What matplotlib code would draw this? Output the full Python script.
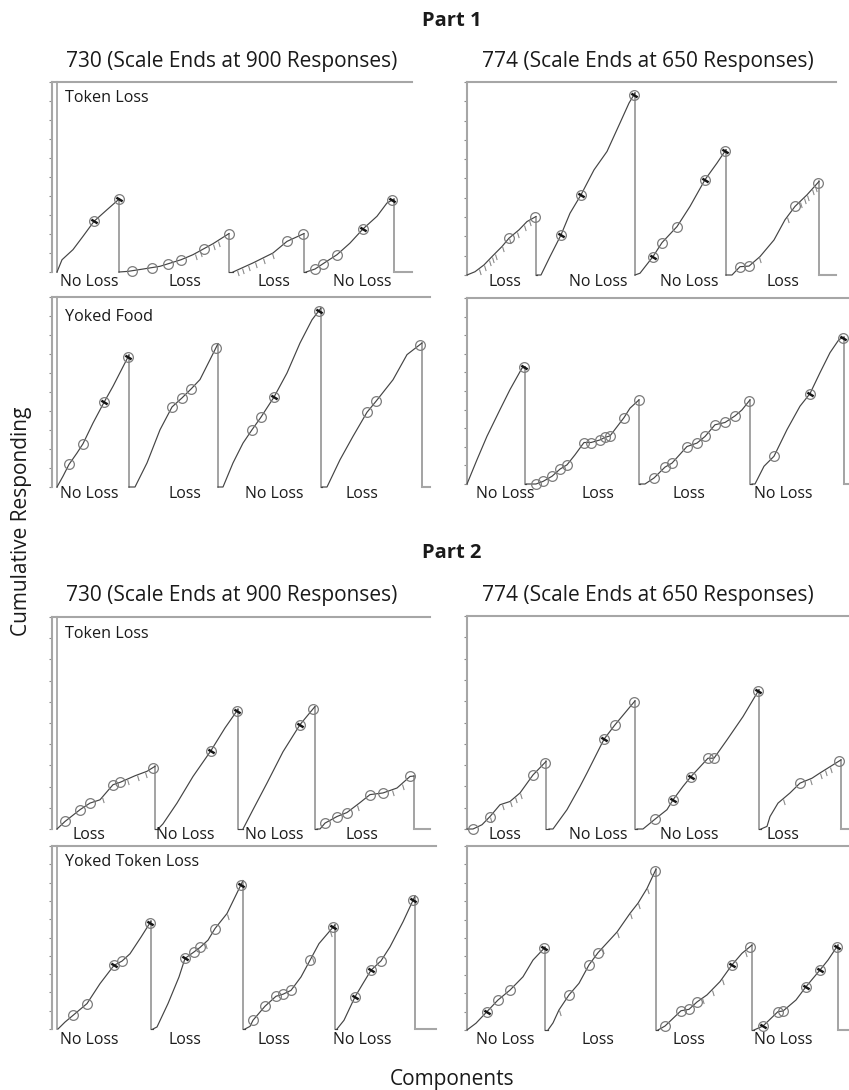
import numpy as np
import matplotlib
matplotlib.use("Agg")
import matplotlib.pyplot as plt
import matplotlib.transforms as mtransforms
from matplotlib.path import Path

plt.rcParams['font.family'] = ['Open Sans', 'DejaVu Sans']

# --- cumulative records: time (arbitrary units) and cumulative responses per component ---
# Part 1, 730, Token Loss (scale 900)
p1_730_tl_t = [[0, 5, 16, 26, 37, 50, 62],
               [62, 71, 86, 103, 124, 136, 156, 172],
               [176, 196, 216, 230, 247],
               [249, 258, 266, 280, 293, 306, 320, 330, 337]]
p1_730_tl_r = [[0, 58, 106, 169, 240, 295, 345],
               [0, 3, 14, 27, 58, 82, 134, 182],
               [0, 43, 90, 145, 182],
               [0, 14, 39, 82, 137, 204, 264, 327, 345]]
p1_730_tl_rein = [37, 62, 75, 95, 111, 124, 147, 172, 230, 246, 258, 266, 280, 306, 335]
p1_730_tl_dark = [37, 62, 306, 335]
p1_730_tl_loss = [138, 143, 156, 161, 180, 185, 191, 198, 206, 215]
p1_730_tl_cond = ["No Loss", "Loss", "Loss", "No Loss"]

# Part 1, 730, Yoked Food
p1_730_yf_t = [[0, 6, 12, 20, 26, 36, 47, 56, 72],
               [72, 78, 90, 103, 115, 125, 134, 143, 153, 161],
               [161, 166, 176, 186, 195, 204, 217, 230, 243, 255, 264],
               [265, 270, 283, 296, 310, 319, 336, 350, 365]]
p1_730_yf_r = [[0, 51, 107, 161, 205, 303, 401, 477, 625],
               [0, 0, 114, 271, 379, 422, 464, 509, 603, 679],
               [0, 0, 114, 208, 271, 331, 426, 540, 682, 792, 848],
               [0, 0, 129, 240, 354, 406, 508, 627, 682]]
p1_730_yf_rein = [12, 26, 47, 71, 115, 125, 134, 159, 195, 204, 217, 262, 310, 319, 363]
p1_730_yf_dark = [47, 71, 217, 262]
p1_730_yf_loss = []
p1_730_yf_cond = ["No Loss", "Loss", "No Loss", "Loss"]

# Part 1, 774, Token Loss (scale 650)
p1_774_tl_t = [[0, 8, 17, 25, 35, 42, 52, 60, 69],
               [70, 74, 83, 94, 103, 114, 127, 140, 153, 162, 168],
               [168, 173, 186, 195, 210, 223, 238, 250, 259],
               [259, 265, 273, 282, 293, 307, 318, 328, 340, 352]]
p1_774_tl_r = [[0, 11, 34, 62, 96, 124, 152, 180, 197],
               [0, 0, 62, 135, 208, 270, 354, 416, 512, 579, 613],
               [0, 6, 62, 109, 163, 231, 321, 377, 422],
               [0, 0, 28, 30, 62, 118, 186, 231, 270, 315]]
p1_774_tl_rein = [42, 68, 94, 114, 167, 186, 195, 210, 238, 258, 273, 282, 328, 351]
p1_774_tl_dark = [94, 114, 167, 186, 238, 258]
p1_774_tl_loss = [12, 17, 22, 25, 28, 35, 42, 50, 57, 62, 292, 320, 333, 337, 340, 345, 348]
p1_774_tl_cond = ["Loss", "No Loss", "No Loss", "Loss"]

# Part 1, 774, Yoked Food
p1_774_yf_t = [[0, 10, 20, 33, 43, 55, 58],
               [59, 63, 69, 76, 85, 93, 100, 108, 117, 124, 133, 138, 143, 150, 157, 163, 172],
               [173, 178, 187, 198, 205, 220, 230, 238, 248, 258, 268, 275, 283],
               [285, 288, 297, 307, 320, 333, 343, 353, 363, 372, 377]]
p1_774_yf_r = [[0, 85, 167, 260, 330, 405, 409],
               [0, 0, 0, 9, 27, 52, 67, 102, 145, 145, 154, 163, 168, 200, 232, 265, 294],
               [0, 0, 21, 59, 73, 131, 143, 166, 207, 215, 238, 259, 294],
               [0, 0, 62, 97, 190, 272, 316, 389, 459, 505, 513]]
p1_774_yf_rein = [57, 69, 76, 85, 93, 100, 117, 124, 133, 138, 143, 157, 172,
                  187, 198, 205, 220, 230, 238, 248, 258, 268, 282, 307, 343, 376]
p1_774_yf_dark = [57, 343, 376]
p1_774_yf_loss = []
p1_774_yf_cond = ["No Loss", "Loss", "Loss", "No Loss"]

# Part 2, 730, Token Loss
p2_730_tl_t = [[0, 8, 23, 33, 43, 56, 63, 78, 90, 98],
               [101, 106, 120, 136, 154, 168, 181],
               [186, 196, 210, 226, 243, 258],
               [260, 263, 268, 280, 290, 303, 313, 326, 340, 353, 357]]
p2_730_tl_r = [[0, 32, 82, 110, 124, 188, 198, 226, 245, 266],
               [0, 22, 110, 223, 333, 429, 508],
               [0, 82, 195, 328, 443, 520],
               [0, 0, 25, 53, 70, 112, 146, 153, 174, 223, 225]]
p2_730_tl_rein = [8, 23, 33, 56, 63, 96, 154, 180, 243, 256, 268, 280, 290, 313, 326, 353]
p2_730_tl_dark = [154, 180, 243]
p2_730_tl_loss = [45, 70, 80, 88, 300, 335, 345]
p2_730_tl_cond = ["Loss", "No Loss", "No Loss", "Loss"]

# Part 2, 730, Yoked Token Loss
p2_730_ytl_t = [[1, 8, 16, 30, 43, 57, 65, 73, 84, 94],
                [96, 100, 111, 122, 128, 137, 143, 151, 158, 170, 186],
                [188, 193, 196, 208, 219, 226, 234, 244, 253, 262, 278],
                [280, 287, 298, 306, 314, 324, 333, 346, 358]]
p2_730_ytl_r = [[0, 34, 67, 125, 223, 313, 334, 370, 452, 530],
                [0, 10, 125, 256, 347, 379, 401, 437, 494, 568, 730],
                [0, 13, 43, 112, 161, 171, 190, 256, 338, 420, 512],
                [0, 43, 158, 224, 289, 335, 404, 527, 654]]
p2_730_ytl_rein = [16, 30, 57, 65, 93, 128, 137, 143, 158, 184, 196, 208, 219, 226, 234, 253, 276,
                   298, 314, 324, 356]
p2_730_ytl_dark = [57, 93, 128, 184, 276, 298, 314, 356]
p2_730_ytl_loss = [148, 170, 255, 273]
p2_730_ytl_cond = ["No Loss", "Loss", "Loss", "No Loss"]

# Part 2, 774, Token Loss
p2_774_tl_t = [[0, 6, 15, 23, 33, 43, 53, 66, 79],
               [82, 86, 100, 113, 120, 137, 148, 168],
               [170, 176, 188, 200, 206, 216, 224, 241, 247, 260, 276, 292],
               [294, 300, 303, 311, 323, 333, 345, 353, 374]]
p2_774_tl_r = [[0, 0, 13, 38, 74, 84, 110, 165, 206],
               [0, 0, 59, 130, 171, 274, 318, 391],
               [0, 0, 30, 59, 89, 130, 160, 216, 216, 272, 343, 425],
               [0, 8, 38, 79, 110, 140, 155, 171, 211]]
p2_774_tl_rein = [6, 23, 66, 78, 137, 148, 167, 188, 206, 224, 241, 247, 291, 333, 372]
p2_774_tl_dark = [137, 206, 224, 291]
p2_774_tl_loss = [23, 35, 43, 48, 53, 316, 343, 353, 358, 363]
p2_774_tl_cond = ["Loss", "No Loss", "No Loss", "Loss"]

# Part 2, 774, Yoked Token Loss
p2_774_ytl_t = [[0, 9, 20, 31, 43, 56, 66, 78],
                [81, 86, 92, 102, 112, 122, 131, 150, 163, 171, 180, 189],
                [191, 198, 214, 222, 230, 240, 253, 265, 275, 285],
                [287, 296, 311, 316, 329, 339, 353, 361, 371]]
p2_774_ytl_r = [[0, 24, 65, 106, 141, 188, 247, 292],
                [0, 25, 71, 124, 165, 230, 273, 346, 412, 448, 500, 568],
                [0, 14, 68, 73, 99, 124, 171, 230, 271, 300],
                [0, 14, 65, 67, 106, 153, 212, 247, 300]]
p2_774_ytl_rein = [20, 31, 43, 77, 102, 122, 131, 188, 198, 214, 222, 230, 265, 283,
                   296, 311, 316, 339, 353, 370]
p2_774_ytl_dark = [20, 77, 265, 296, 339, 353, 370]
p2_774_ytl_loss = [92, 135, 150, 163, 171, 180, 235, 245, 255, 278]
p2_774_ytl_cond = ["No Loss", "Loss", "Loss", "No Loss"]

scale_730 = 900
scale_774 = 650

# --- figure (layout in pixels) ---
FW, FH = 849, 1090
fig = plt.figure(figsize=(FW / 100, FH / 100), dpi=100)

CURVE = '#444444'
FRAME = '#a6a6a6'
TXT = '#1a1a1a'

hash_marker = Path([(0, 0), (0.3, -1)], [Path.MOVETO, Path.LINETO])
dash_marker = Path([(-1, 0.6), (1, -0.6)], [Path.MOVETO, Path.LINETO])


def draw_panel(box, end, ymax, comp_t, comp_r, rein, dark, loss, cond, label_x, label_y,
               name=None, name_dy=-11.5, double=False):
    left, top, right, base = box
    ax = fig.add_axes([left / FW, 1 - base / FH, (right - left) / FW, (base - top) / FH])
    ax.set_xlim(0, end)
    ax.set_ylim(0, ymax)
    for s in ['right', 'bottom']:
        ax.spines[s].set_visible(False)
    for s in ['top', 'left']:
        ax.spines[s].set_color(FRAME)
        ax.spines[s].set_linewidth(1.5)
    ax.set_xticks([])
    ax.set_yticks(np.linspace(0, ymax, 11))
    ax.tick_params(axis='y', direction='out', length=2.5, width=0.8, color='#8c8c8c',
                   labelleft=False)
    ax.patch.set_alpha(0)
    if double:
        ax.spines['left'].set_position(('outward', 3.5))
        ax.plot([0, 0], [0, ymax], color=FRAME, lw=1.3, clip_on=False)
        ax.plot([-5, 0], [ymax, ymax], color=FRAME, lw=1.5, clip_on=False)

    n = len(comp_t)
    for i in range(n):
        t, r = comp_t[i], comp_r[i]
        ax.plot(t, r, color=CURVE, lw=0.85, clip_on=False, zorder=3)
        ax.plot([t[-1], t[-1]], [r[-1], 0], color='#8a8a8a', lw=1.1, clip_on=False, zorder=2)
        if i + 1 < n:
            ax.plot([t[-1], comp_t[i + 1][0]], [0, 0], color=CURVE, lw=0.85, clip_on=False)
        else:
            ax.plot([t[-1], end], [0, 0], color=FRAME, lw=1.5, clip_on=False)

    def on_curve(x):
        for t, r in zip(comp_t, comp_r):
            if t[0] <= x <= t[-1]:
                return np.interp(x, t, r)
        return 0.0

    rx = np.array(rein, dtype=float)
    ry = np.array([on_curve(x) for x in rx])
    ax.plot(rx, ry, 'o', ms=7, mfc='none', mec='#7c7c7c', mew=0.9, clip_on=False, zorder=4)
    if dark:
        dx = np.array(dark, dtype=float)
        dy = np.array([on_curve(x) for x in dx])
        ax.plot(dx, dy, ls='none', marker=dash_marker, ms=4.5, mec='#151515', mew=1.8,
                clip_on=False, zorder=5)
    if loss:
        lx = np.array(loss, dtype=float)
        ly = np.array([on_curve(x) for x in lx])
        ax.plot(lx, ly, ls='none', marker=hash_marker, ms=8, mfc='none', mec='#8a8a8a',
                mew=0.8, clip_on=False, zorder=3)

    tr = mtransforms.blended_transform_factory(ax.transData, fig.transFigure)
    for c, x in zip(cond, label_x):
        ax.text(x, 1 - label_y / FH, c, transform=tr, ha='center', va='center',
                fontsize=11.4, color=TXT)
    if name:
        ax.annotate(name, xy=(0, 1), xycoords='axes fraction', xytext=(6, name_dy),
                    textcoords='offset points', ha='left', va='center', fontsize=11.6, color=TXT)
    return ax


LEFT_LX = [32, 128, 217, 305]
RIGHT_LX = [38, 131, 222, 316]

draw_panel((57, 82, 412, 272), 355, scale_730, p1_730_tl_t, p1_730_tl_r, p1_730_tl_rein,
           p1_730_tl_dark, p1_730_tl_loss, p1_730_tl_cond, LEFT_LX, 282,
           name='Token Loss', double=True)
draw_panel((57, 297, 430, 487), 373, scale_730, p1_730_yf_t, p1_730_yf_r, p1_730_yf_rein,
           p1_730_yf_dark, p1_730_yf_loss, p1_730_yf_cond, LEFT_LX, 494,
           name='Yoked Food', name_dy=-14.5, double=True)
draw_panel((467, 82, 836, 275), 369, scale_774, p1_774_tl_t, p1_774_tl_r, p1_774_tl_rein,
           p1_774_tl_dark, p1_774_tl_loss, p1_774_tl_cond, RIGHT_LX, 282)
draw_panel((467, 298, 849, 484), 382, scale_774, p1_774_yf_t, p1_774_yf_r, p1_774_yf_rein,
           p1_774_yf_dark, p1_774_yf_loss, p1_774_yf_cond, RIGHT_LX, 494)
draw_panel((57, 617, 430, 829), 373, scale_730, p2_730_tl_t, p2_730_tl_r, p2_730_tl_rein,
           p2_730_tl_dark, p2_730_tl_loss, p2_730_tl_cond, LEFT_LX, 835,
           name='Token Loss', name_dy=-12, double=True)
draw_panel((57, 846, 436, 1029), 379, scale_730, p2_730_ytl_t, p2_730_ytl_r, p2_730_ytl_rein,
           p2_730_ytl_dark, p2_730_ytl_loss, p2_730_ytl_cond, LEFT_LX, 1040,
           name='Yoked Token Loss', double=True)
draw_panel((467, 616, 849, 829), 382, scale_774, p2_774_tl_t, p2_774_tl_r, p2_774_tl_rein,
           p2_774_tl_dark, p2_774_tl_loss, p2_774_tl_cond, RIGHT_LX, 835)
draw_panel((467, 846, 849, 1030), 382, scale_774, p2_774_ytl_t, p2_774_ytl_r, p2_774_ytl_rein,
           p2_774_ytl_dark, p2_774_ytl_loss, p2_774_ytl_cond, RIGHT_LX, 1040)


def ftext(x, y, s, **kw):
    fig.text(x / FW, 1 - y / FH, s, ha='center', va='center', color=TXT, **kw)


ftext(452, 21, 'Part 1', fontsize=14.5, fontweight='bold')
ftext(452, 553, 'Part 2', fontsize=14.5, fontweight='bold')
for y in (62, 595):
    ftext(232, y, '730 (Scale Ends at 900 Responses)', fontsize=15)
    ftext(648, y, '774 (Scale Ends at 650 Responses)', fontsize=15)
ftext(22, 521, 'Cumulative Responding', fontsize=15, rotation=90)
ftext(452, 1080, 'Components', fontsize=15)

fig.savefig('out.png', dpi=100)
